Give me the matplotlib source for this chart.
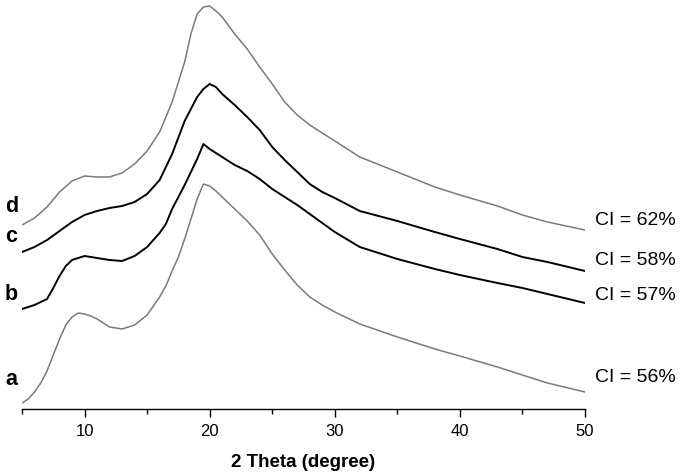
import matplotlib
matplotlib.use("Agg")
import matplotlib.pyplot as plt
import numpy as np

plt.rcParams['font.family'] = ['Liberation Sans', 'DejaVu Sans']

# 2-theta positions (degrees) and read-off intensities (arbitrary units, offset stacked)
x_a = [5.0, 5.5, 6.0, 6.5, 7.0, 7.5, 8.0, 8.5, 9.0, 9.5, 10.0, 10.5, 11.0, 11.5, 12.0, 13.0, 14.0, 15.0,
       16.0, 16.5, 17.0, 17.5, 18.0, 18.5, 19.0, 19.5, 20.0, 20.5, 21.0, 22.0, 23.0, 24.0, 25.0, 26.0,
       27.0, 28.0, 29.0, 30.0, 32.0, 35.0, 38.0, 40.0, 43.0, 45.0, 47.0, 50.0]
y_a = [6, 10, 17, 26, 38, 54, 70, 84, 92, 96, 95, 93, 90, 86, 82, 80, 84, 94,
       112, 123, 138, 152, 170, 190, 210, 225, 223, 218, 212, 200, 188, 174, 155, 139,
       124, 112, 104, 97, 85, 72, 60, 53, 42, 34, 26, 17]

x_b = [5.0, 6.0, 7.0, 7.5, 8.0, 8.5, 9.0, 10.0, 11.0, 12.0, 13.0, 14.0, 15.0, 16.0, 16.5, 17.0,
       18.0, 19.0, 19.5, 20.0, 21.0, 22.0, 23.0, 24.0, 25.0, 26.0, 27.0, 28.0, 30.0, 32.0, 35.0,
       38.0, 40.0, 43.0, 45.0, 47.0, 50.0]
y_b = [100, 104, 110, 121, 133, 143, 149, 153, 151, 149, 148, 153, 162, 176, 185, 200,
       224, 250, 265, 260, 252, 244, 238, 230, 220, 212, 204, 195, 177, 162, 150,
       140, 134, 126, 121, 115, 106]

x_c = [5.0, 6.0, 7.0, 8.0, 9.0, 10.0, 11.0, 12.0, 13.0, 14.0, 15.0, 16.0, 17.0, 18.0, 19.0, 19.5,
       20.0, 20.5, 21.0, 22.0, 23.0, 24.0, 25.0, 26.0, 27.0, 28.0, 29.0, 30.0, 32.0, 35.0, 38.0,
       40.0, 43.0, 45.0, 47.0, 50.0]
y_c = [157, 162, 169, 178, 187, 194, 198, 201, 203, 207, 215, 229, 255, 288, 312, 320,
       325, 322, 315, 304, 292, 279, 262, 249, 237, 225, 217, 211, 198, 188, 177,
       170, 160, 152, 147, 138]

x_d = [5.0, 6.0, 7.0, 8.0, 9.0, 10.0, 11.0, 12.0, 13.0, 14.0, 15.0, 16.0, 17.0, 18.0, 18.5, 19.0,
       19.5, 20.0, 20.5, 21.0, 22.0, 23.0, 24.0, 25.0, 26.0, 27.0, 28.0, 30.0, 32.0, 35.0, 38.0,
       40.0, 43.0, 45.0, 47.0, 50.0]
y_d = [184, 191, 202, 217, 228, 233, 232, 232, 236, 245, 258, 277, 307, 347, 375, 395,
       402, 403, 398, 392, 375, 360, 342, 325, 307, 294, 284, 268, 252, 237, 222,
       214, 203, 194, 187, 179]

curve_names = ['a', 'b', 'c', 'd']
ci_labels = ['CI = 56%', 'CI = 57%', 'CI = 58%', 'CI = 62%']
x_ticks = [10, 20, 30, 40, 50]

W, H = 685, 477
fig = plt.figure(figsize=(W / 100, H / 100), dpi=100)
ax = fig.add_axes([22 / W, 67 / H, 563 / W, 410 / H])

grey = '#7a7a7a'
ax.plot(x_a, y_a, color=grey, lw=1.1)
ax.plot(x_b, y_b, color='black', lw=1.4)
ax.plot(x_c, y_c, color='black', lw=1.4)
ax.plot(x_d, y_d, color=grey, lw=1.1)

ax.set_xlim(5, 50)
ax.set_ylim(0, 410)
for s in ['top', 'right', 'left']:
    ax.spines[s].set_visible(False)
ax.spines['bottom'].set_linewidth(1.0)
ax.set_yticks([])
ax.set_xticks(x_ticks)
ax.set_xticks([5, 15, 25, 35, 45], minor=True)
ax.tick_params(axis='x', which='major', direction='out', length=6, width=1.0,
               labelsize=12, pad=4)
ax.tick_params(axis='x', which='minor', direction='out', length=3.5, width=1.0)

fig.text((22 + 563 / 2) / W, 1 - 467 / H, '2 Theta (degree)', ha='center', va='baseline',
         fontsize=13.5, fontweight='bold')

# curve letters (left)
letter_base = [385, 300, 242, 212]
for name, b in zip(curve_names, letter_base):
    fig.text(5 / W, 1 - b / H, name, ha='left', va='baseline', fontsize=15.5, fontweight='bold')

# crystallinity labels (right)
ci_base = [382, 300, 265, 225]
for lab, b in zip(ci_labels, ci_base):
    fig.text(595 / W, 1 - b / H, lab, ha='left', va='baseline', fontsize=14)

fig.savefig('out.png', dpi=100)
